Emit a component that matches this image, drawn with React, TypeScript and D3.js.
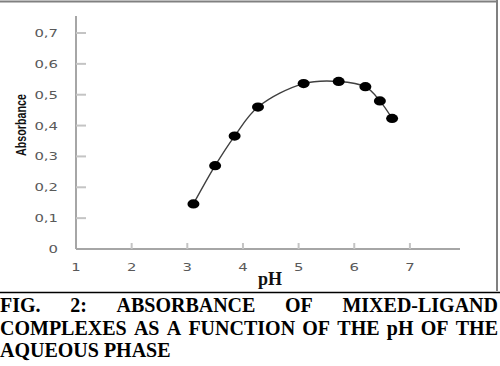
import React, { useRef, useEffect } from 'react';
import * as d3 from 'd3';

const W = 500;
const H = 366;

// data
const phValues = [3.11, 3.5, 3.85, 4.27, 5.09, 5.72, 6.2, 6.46, 6.68];
const absorbance = [0.146, 0.27, 0.366, 0.46, 0.536, 0.543, 0.526, 0.48, 0.423];
const xTicks = [1, 2, 3, 4, 5, 6, 7];
const yTicks = [0, 0.1, 0.2, 0.3, 0.4, 0.5, 0.6, 0.7];
const yTickLabels = ['0', '0,1', '0,2', '0,3', '0,4', '0,5', '0,6', '0,7'];
const captionLines = [
    ['FIG.', '2:', 'ABSORBANCE', 'OF', 'MIXED-LIGAND'],
    ['COMPLEXES', 'AS', 'A', 'FUNCTION', 'OF', 'THE', 'pH', 'OF', 'THE'],
    ['AQUEOUS', 'PHASE'],
];

const App = () => {
    const svgRef = useRef<SVGSVGElement>(null);

    useEffect(() => {
        const svg = d3.select(svgRef.current);
        svg.selectAll('*').remove();

        const x = d3.scaleLinear().domain([1, 7.9]).range([76, 460]);
        const y = d3.scaleLinear().domain([0, 0.7]).range([249, 33]);

        // outer frame of the chart picture
        svg.append('line').attr('x1', 0).attr('x2', 498).attr('y1', 1.5).attr('y2', 1.5)
            .attr('stroke', '#808080').attr('stroke-width', 2);
        svg.append('line').attr('x1', 497).attr('x2', 497).attr('y1', 0).attr('y2', 291)
            .attr('stroke', '#808080').attr('stroke-width', 2);
        svg.append('line').attr('x1', 0).attr('x2', 500).attr('y1', 292.5).attr('y2', 292.5)
            .attr('stroke', '#000').attr('stroke-width', 1.6);

        // axes
        const axisColor = '#a6a6a6';
        svg.append('line').attr('x1', x(1)).attr('x2', x(1)).attr('y1', 16).attr('y2', y(0))
            .attr('stroke', axisColor).attr('stroke-width', 2);
        svg.append('line').attr('x1', x(1)).attr('x2', 460).attr('y1', y(0)).attr('y2', y(0))
            .attr('stroke', axisColor).attr('stroke-width', 2);

        svg.selectAll('.ytick').data(yTicks.slice(1)).enter().append('line')
            .attr('x1', x(1)).attr('x2', x(1) + 10)
            .attr('y1', d => y(d)).attr('y2', d => y(d))
            .attr('stroke', '#c4c4c4').attr('stroke-width', 2);
        svg.selectAll('.xtick').data(xTicks.slice(1)).enter().append('line')
            .attr('x1', d => x(d)).attr('x2', d => x(d))
            .attr('y1', y(0)).attr('y2', y(0) - 6)
            .attr('stroke', '#c4c4c4').attr('stroke-width', 2);

        // tick labels (the source image is stretched sideways)
        svg.selectAll('.ylab').data(yTicks).enter().append('text')
            .attr('transform', d => `translate(58,${y(d)}) scale(1.35,1)`)
            .attr('dy', '0.36em')
            .attr('text-anchor', 'end')
            .style('font-family', 'DejaVu Sans')
            .style('font-size', '11px')
            .style('fill', '#595959')
            .text((d, i) => yTickLabels[i]);
        svg.selectAll('.xlab').data(xTicks).enter().append('text')
            .attr('transform', d => `translate(${x(d)},271) scale(1.35,1)`)
            .attr('text-anchor', 'middle')
            .style('font-family', 'DejaVu Sans')
            .style('font-size', '11px')
            .style('fill', '#595959')
            .text(d => d);

        // axis titles
        svg.append('text')
            .attr('transform', 'translate(25.5,125) rotate(-90)')
            .attr('text-anchor', 'middle')
            .attr('textLength', 62)
            .attr('lengthAdjust', 'spacingAndGlyphs')
            .style('font-family', 'Liberation Sans Narrow, Liberation Sans, sans-serif')
            .style('font-weight', 'bold')
            .style('font-size', '14px')
            .style('fill', '#111')
            .text('Absorbance');
        svg.append('text')
            .attr('x', 270).attr('y', 285)
            .attr('text-anchor', 'middle')
            .style('font-family', 'Liberation Serif, serif')
            .style('font-weight', 'bold')
            .style('font-size', '18px')
            .style('fill', '#111')
            .text('pH');

        // smoothed line + markers
        const pts = phValues.map((p, i) => [p, absorbance[i]] as [number, number]);
        const line = d3.line<[number, number]>()
            .x(d => x(d[0]))
            .y(d => y(d[1]))
            .curve(d3.curveCatmullRom.alpha(0.5));
        svg.append('path').attr('d', line(pts))
            .attr('fill', 'none').attr('stroke', '#404040').attr('stroke-width', 1.4);
        svg.selectAll('.pt').data(pts).enter().append('ellipse')
            .attr('cx', d => x(d[0])).attr('cy', d => y(d[1]))
            .attr('rx', 6).attr('ry', 4.6)
            .attr('fill', '#000');

        // caption, first two lines justified
        const capFont = (sel: any) => sel
            .style('font-family', 'Liberation Serif, Times New Roman, serif')
            .style('font-weight', 'bold')
            .style('font-size', '20px')
            .style('fill', '#000');
        const baselines = [312, 334.5, 357];
        const right = 498;
        captionLines.forEach((words, li) => {
            if (li === captionLines.length - 1) {
                capFont(svg.append('text').attr('x', 0).attr('y', baselines[li])).text(words.join(' '));
                return;
            }
            const nodes = words.map(w => capFont(svg.append('text').attr('y', baselines[li])).text(w));
            const widths = nodes.map(n => (n.node() as SVGTextElement).getComputedTextLength());
            const gap = (right - d3.sum(widths)) / (words.length - 1);
            let cx = 0;
            nodes.forEach((n, i) => {
                n.attr('x', cx);
                cx += widths[i] + gap;
            });
        });
    }, []);

    return (
        <svg ref={svgRef} width={W} height={H}
            style={{ position: 'absolute', left: 0, top: 0, background: '#fff' }} />
    );
};

export default App;
